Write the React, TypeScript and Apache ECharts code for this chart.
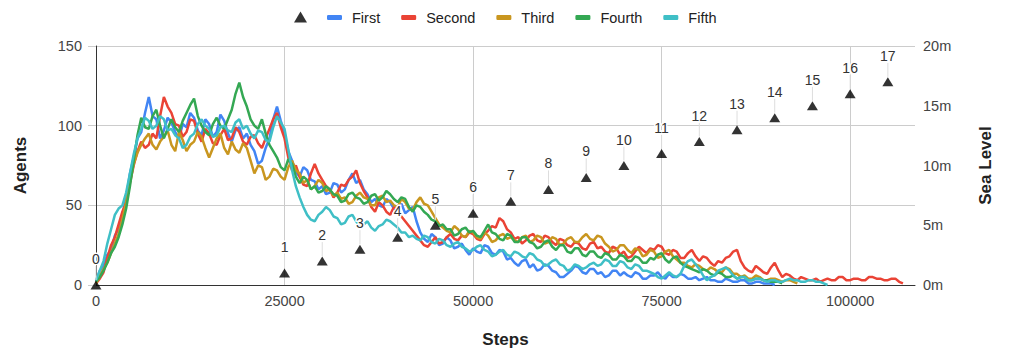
import React, { useEffect, useRef } from "react";
import * as echarts from "echarts";

const STEP = 500;

const first = [2, 9, 12, 19, 22, 31, 35, 44, 55, 70, 80, 92, 96, 108, 118, 106, 104, 92, 97, 105, 102, 96, 92, 101, 99, 108, 105, 97, 94, 104, 101, 93, 96, 107, 103, 95, 90, 97, 99, 92, 95, 88, 84, 76, 78, 86, 92, 104, 112, 103, 95, 84, 78, 71, 68, 74, 72, 66, 65, 60, 62, 57, 58, 64, 63, 58, 60, 66, 70, 64, 66, 60, 57, 52, 54, 50, 49, 54, 52, 48, 47, 51, 45, 47, 49, 40, 33, 29, 27, 32, 30, 25, 26, 30, 28, 23, 24, 26, 22, 19, 23, 21, 20, 25, 24, 20, 19, 22, 21, 16, 17, 14, 12, 15, 16, 11, 13, 9, 10, 13, 12, 9, 8, 5, 5, 7, 9, 12, 11, 8, 7, 10, 10, 7, 8, 5, 6, 9, 9, 6, 8, 6, 5, 8, 7, 4, 4, 6, 6, 8, 5, 4, 7, 5, 5, 7, 6, 4, 4, 5, 3, 4, 5, 3, 3, 2, 2, 4, 3, 2, 2, 3, 3, 1, 1, 2, 2, 1, 1, 1, 0];

const second = [1, 4, 8, 17, 25, 30, 38, 46, 52, 64, 75, 84, 90, 86, 88, 95, 92, 106, 118, 112, 108, 101, 100, 93, 96, 104, 103, 95, 90, 98, 95, 89, 88, 94, 98, 91, 92, 99, 96, 90, 88, 93, 94, 89, 86, 92, 98, 104, 108, 99, 92, 80, 72, 75, 68, 63, 62, 70, 76, 70, 66, 62, 60, 55, 58, 63, 62, 66, 68, 72, 64, 59, 55, 49, 46, 52, 50, 46, 44, 49, 48, 43, 40, 37, 34, 31, 28, 25, 24, 27, 30, 26, 27, 30, 32, 29, 28, 31, 30, 33, 32, 29, 28, 32, 34, 37, 36, 42, 40, 35, 33, 29, 30, 26, 28, 31, 32, 28, 27, 31, 30, 27, 25, 29, 28, 25, 24, 27, 26, 23, 22, 26, 27, 23, 24, 21, 20, 24, 23, 19, 21, 17, 18, 21, 24, 22, 20, 23, 22, 25, 24, 20, 19, 22, 21, 17, 17, 20, 22, 18, 15, 18, 17, 14, 12, 15, 14, 17, 18, 21, 22, 15, 11, 9, 8, 12, 10, 8, 7, 11, 14, 9, 5, 7, 6, 4, 3, 5, 4, 3, 3, 4, 2, 3, 4, 3, 3, 5, 5, 3, 3, 4, 4, 3, 3, 5, 5, 4, 4, 3, 3, 4, 4, 2, 1];

const third = [1, 6, 10, 14, 20, 26, 32, 41, 52, 65, 76, 83, 88, 92, 95, 88, 85, 90, 93, 97, 88, 84, 96, 91, 84, 88, 90, 96, 93, 86, 80, 86, 92, 95, 86, 82, 90, 85, 83, 89, 86, 78, 70, 75, 74, 66, 68, 73, 72, 68, 66, 74, 78, 72, 70, 64, 66, 60, 62, 66, 64, 59, 60, 56, 58, 54, 55, 51, 52, 56, 58, 55, 54, 50, 50, 55, 56, 52, 53, 50, 49, 54, 52, 48, 47, 52, 55, 51, 50, 46, 42, 38, 36, 34, 33, 37, 35, 31, 30, 34, 33, 30, 29, 33, 31, 27, 28, 31, 32, 29, 30, 28, 27, 30, 31, 27, 28, 31, 30, 26, 27, 30, 29, 25, 26, 29, 30, 27, 27, 30, 32, 29, 28, 31, 30, 26, 24, 21, 22, 25, 25, 22, 20, 23, 22, 18, 19, 22, 21, 17, 18, 21, 22, 18, 16, 14, 14, 12, 11, 13, 12, 10, 9, 11, 10, 8, 8, 11, 10, 7, 7, 5, 6, 4, 4, 6, 5, 3, 3, 4, 4, 3, 2, 3, 3, 2, 1];

const fourth = [2, 5, 9, 14, 20, 24, 30, 38, 48, 62, 78, 94, 105, 99, 98, 106, 110, 100, 92, 98, 104, 99, 96, 103, 108, 113, 117, 106, 100, 96, 94, 101, 105, 100, 98, 104, 110, 120, 127, 118, 112, 104, 100, 98, 104, 95, 88, 84, 80, 74, 72, 79, 76, 68, 64, 68, 66, 60, 62, 58, 59, 62, 60, 57, 56, 52, 53, 57, 58, 55, 54, 51, 52, 56, 57, 53, 55, 59, 57, 54, 52, 55, 54, 49, 46, 50, 49, 46, 44, 41, 40, 37, 38, 35, 35, 31, 32, 35, 36, 33, 34, 31, 30, 34, 38, 33, 32, 29, 28, 32, 31, 27, 27, 30, 30, 27, 26, 23, 24, 27, 28, 24, 22, 25, 25, 21, 20, 23, 23, 19, 18, 21, 21, 18, 17, 20, 19, 16, 16, 19, 18, 15, 15, 18, 17, 14, 14, 17, 16, 19, 20, 16, 14, 17, 18, 14, 12, 11, 10, 9, 8, 10, 9, 7, 6, 8, 7, 5, 5, 6, 4, 5, 5, 3, 3, 4, 4, 3, 3, 2, 2, 2, 1];

const fifth = [3, 9, 15, 26, 35, 44, 48, 50, 58, 70, 82, 92, 98, 105, 103, 98, 100, 106, 104, 97, 98, 94, 92, 86, 88, 93, 95, 101, 104, 100, 98, 93, 94, 99, 100, 97, 96, 102, 104, 98, 100, 95, 92, 97, 96, 91, 90, 99, 106, 102, 98, 85, 72, 62, 55, 49, 44, 41, 40, 44, 46, 49, 47, 43, 42, 38, 39, 43, 44, 40, 36, 38, 40, 36, 34, 37, 38, 41, 40, 38, 36, 33, 33, 30, 31, 29, 28, 31, 30, 27, 26, 29, 28, 25, 24, 26, 27, 24, 23, 21, 22, 24, 25, 22, 21, 18, 19, 21, 22, 19, 18, 21, 20, 18, 17, 20, 19, 16, 15, 12, 13, 15, 16, 13, 12, 9, 10, 13, 12, 10, 11, 13, 14, 12, 13, 16, 15, 12, 12, 15, 14, 11, 10, 13, 12, 9, 9, 8, 7, 5, 4, 6, 8, 6, 5, 7, 12, 15, 16, 13, 10, 6, 3, 5, 6, 9, 10, 11, 9, 6, 4, 5, 5, 3, 3, 4, 4, 3, 2, 3, 3, 2, 2, 3, 4, 3, 3, 2, 2, 3, 3, 2, 2, 1, 0];

const seaSteps = [0, 25000, 30000, 35000, 40000, 45000, 50000, 55000, 60000, 65000, 70000, 75000, 80000, 85000, 90000, 95000, 100000, 105000];
const seaLevels = [0, 1, 2, 3, 4, 5, 6, 7, 8, 9, 10, 11, 12, 13, 14, 15, 16, 17];

const seriesNames = ["First", "Second", "Third", "Fourth", "Fifth"];
const seriesColors = ["#4285F4", "#EA4335", "#C9961F", "#34A853", "#3FBFC6"];
const seriesData = [first, second, third, fourth, fifth];

const FONT = 'Arial, "Liberation Sans", sans-serif';

export default function App() {
  const ref = useRef<HTMLDivElement>(null);
  useEffect(() => {
    const chart = echarts.init(ref.current as HTMLDivElement, null, { renderer: "svg" });
    const lines = seriesNames.map((name, k) => ({
      type: "line",
      name,
      data: seriesData[k].map((v, i) => [i * STEP, v]),
      showSymbol: false,
      symbol: "none",
      lineStyle: { width: 2.5, color: seriesColors[k] },
      itemStyle: { color: seriesColors[k] },
      z: 2,
    }));
    const seaPoints = seaSteps.map((s, i) => [s, seaLevels[i]]);
    const titleStyle = { fontSize: 17, fontWeight: "bold", color: "#222", fontFamily: FONT };
    chart.setOption({
      animation: false,
      textStyle: { fontFamily: FONT },
      grid: { left: 96, right: 98, top: 46, bottom: 67, containLabel: false, outerBoundsMode: "none" },
      legend: [
        {
          data: [{ name: " ", icon: "triangle" }],
          left: 294,
          top: 10,
          padding: 0,
          itemWidth: 13,
          itemHeight: 11,
          itemGap: 0,
          textStyle: { fontSize: 14, color: "#222", fontFamily: FONT },
          selectedMode: false,
        },
        {
          data: seriesNames,
          left: 327,
          top: 10,
          padding: 0,
          icon: "roundRect",
          itemWidth: 15,
          itemHeight: 5,
          itemGap: 21,
          textStyle: { fontSize: 14.5, color: "#222", fontFamily: FONT, padding: [0, 0, 0, 5] },
          selectedMode: false,
        },
      ],
      xAxis: {
        type: "value",
        min: 0,
        max: 108600,
        interval: 25000,
        name: "Steps",
        nameLocation: "middle",
        nameGap: 46,
        nameTextStyle: titleStyle,
        axisLine: { show: true, lineStyle: { color: "#333", width: 1 } },
        axisTick: { show: false },
        axisLabel: {
          color: "#444",
          fontSize: 14.5,
          margin: 8,
          showMaxLabel: false,
          fontFamily: FONT,
          formatter: (v: number) => String(v),
        },
        splitLine: { show: true, showMinLine: false, showMaxLine: false, lineStyle: { color: "#cccccc", width: 1 } },
      },
      yAxis: [
        {
          type: "value",
          position: "left",
          min: 0,
          max: 150,
          interval: 50,
          name: "Agents",
          nameLocation: "middle",
          nameGap: 67,
          nameRotate: 90,
          nameTextStyle: titleStyle,
          axisLine: { show: true, lineStyle: { color: "#333", width: 1 } },
          axisTick: { show: true, length: 8, lineStyle: { color: "#cccccc" } },
          axisLabel: { color: "#444", fontSize: 14.5, margin: 14, fontFamily: FONT },
          splitLine: { show: true, lineStyle: { color: "#cccccc", width: 1 } },
        },
        {
          type: "value",
          position: "right",
          min: 0,
          max: 20,
          interval: 5,
          name: "Sea Level",
          nameLocation: "middle",
          nameGap: 62,
          nameRotate: 90,
          nameTextStyle: titleStyle,
          axisLine: { show: false },
          axisTick: { show: false },
          axisLabel: { color: "#444", fontSize: 14.5, margin: 8, formatter: "{value}m", fontFamily: FONT },
          splitLine: { show: false },
        },
      ],
      series: [
        ...lines,
        {
          type: "custom",
          name: "annotations",
          yAxisIndex: 1,
          data: seaPoints,
          encode: { x: 0, y: 1 },
          silent: true,
          clip: false,
          z: 3,
          renderItem: (params: any, api: any) => {
            const p = api.coord([api.value(0), api.value(1)]);
            return {
              type: "group",
              children: [
                {
                  type: "line",
                  shape: { x1: p[0], y1: p[1] - 5, x2: p[0], y2: p[1] - 19 },
                  style: { stroke: "#dddddd", lineWidth: 1 },
                },
                {
                  type: "text",
                  x: p[0],
                  y: p[1] - 26,
                  style: {
                    text: String(seaLevels[params.dataIndex]),
                    fill: "#333",
                    font: `14px ${FONT}`,
                    align: "center",
                    verticalAlign: "middle",
                    stroke: "#ffffff",
                    lineWidth: 3,
                  },
                },
              ],
            };
          },
        },
        {
          type: "scatter",
          name: " ",
          yAxisIndex: 1,
          data: seaPoints,
          symbol: "triangle",
          symbolSize: [11, 9],
          itemStyle: { color: "#000000" },
          clip: false,
          z: 4,
        },
      ],
    });
    return () => chart.dispose();
  }, []);
  return (
    <div
      ref={ref}
      style={{ position: "fixed", left: 0, top: 0, width: 1013, height: 352, background: "#fff" }}
    />
  );
}
